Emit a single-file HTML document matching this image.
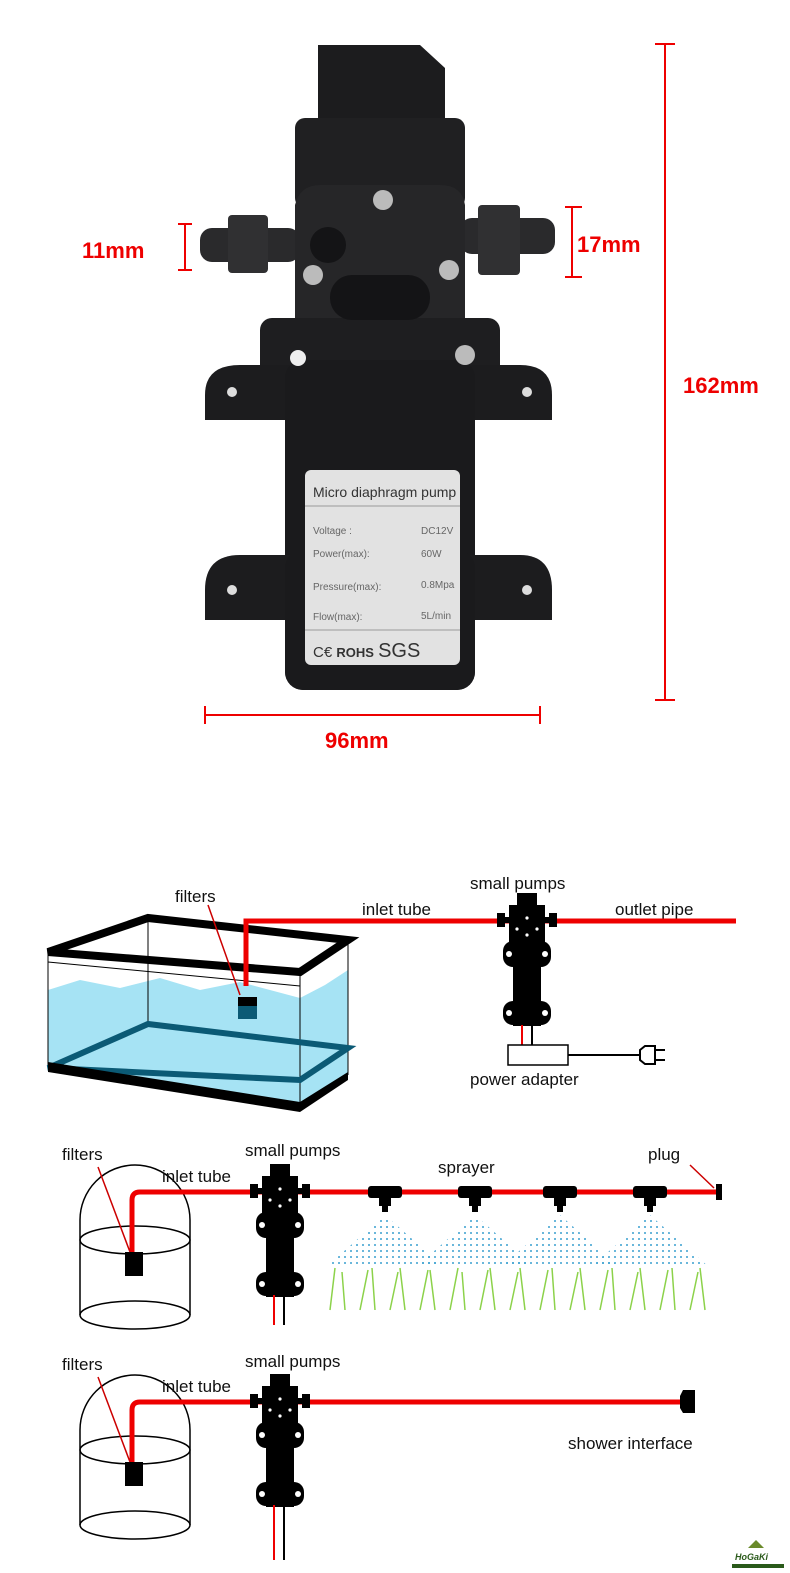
<!DOCTYPE html>
<html><head><meta charset="utf-8"><style>
body{margin:0;background:#fff;}
svg{display:block;font-family:"Liberation Sans",Arial,sans-serif;}
</style></head><body>
<svg width="790" height="1573" viewBox="0 0 790 1573" xmlns="http://www.w3.org/2000/svg">
<defs>
<g id="pump">
 <rect x="-10" y="-28" width="20" height="14" fill="#000"/>
 <rect x="-18" y="-16" width="36" height="40" fill="#000"/>
 <rect x="-30" y="-8" width="8" height="14" fill="#000"/>
 <rect x="22" y="-8" width="8" height="14" fill="#000"/>
 <rect x="-22" y="-4" width="44" height="6" fill="#000"/>
 <rect x="-24" y="20" width="48" height="26" rx="10" fill="#000"/>
 <rect x="-14" y="20" width="28" height="85" fill="#000"/>
 <rect x="-24" y="80" width="48" height="24" rx="10" fill="#000"/>
 <circle cx="-18" cy="33" r="3" fill="#fff"/><circle cx="18" cy="33" r="3" fill="#fff"/>
 <circle cx="-18" cy="92" r="3" fill="#fff"/><circle cx="18" cy="92" r="3" fill="#fff"/>
 <circle cx="0" cy="-3" r="1.6" fill="#fff"/><circle cx="-10" cy="8" r="1.6" fill="#fff"/><circle cx="10" cy="8" r="1.6" fill="#fff"/><circle cx="0" cy="14" r="1.6" fill="#fff"/>
</g>
<g id="jar" fill="none" stroke="#000" stroke-width="1.5">
 <path d="M0,140 L0,45 A55,55 0 0 1 110,45 L110,140"/>
 <ellipse cx="55" cy="65" rx="55" ry="14"/>
 <ellipse cx="55" cy="140" rx="55" ry="14"/>
</g>
<g id="spr">
 <rect x="-17" y="-6" width="34" height="12" rx="3" fill="#000"/>
 <rect x="-6" y="-6" width="12" height="20" fill="#000"/>
 <rect x="-3" y="12" width="6" height="8" fill="#000"/>
</g>
<pattern id="dots" width="6" height="6" patternUnits="userSpaceOnUse"><circle cx="3" cy="3" r="1" fill="#3aa0d0"/></pattern>
</defs>

<!-- Pump photo -->
<g>
 <path d="M318,45 L420,45 L445,68 L445,125 L318,125 Z" fill="#1c1c1e"/>
 <rect x="295" y="118" width="170" height="90" rx="10" fill="#202022"/>
 <rect x="200" y="228" width="100" height="34" rx="12" fill="#2a2a2c"/>
 <rect x="228" y="215" width="40" height="58" rx="4" fill="#303032"/>
 <rect x="460" y="218" width="95" height="36" rx="12" fill="#2a2a2c"/>
 <rect x="478" y="205" width="42" height="70" rx="4" fill="#303032"/>
 <path d="M295,205 Q300,185 320,185 L440,185 Q462,185 465,205 L465,370 L295,370 Z" fill="#262628"/>
 <rect x="260" y="318" width="240" height="60" rx="12" fill="#1e1e20"/>
 <path d="M205,395 Q205,365 240,365 L520,365 Q552,365 552,395 L552,420 L205,420 Z" fill="#1c1c1e"/>
 <rect x="285" y="360" width="190" height="330" rx="18" fill="#1a1a1c"/>
 <path d="M205,590 Q205,555 240,555 L520,555 Q552,555 552,590 L552,620 L205,620 Z" fill="#1c1c1e"/>
 <rect x="285" y="550" width="190" height="140" rx="18" fill="#1a1a1c"/>
 <rect x="330" y="275" width="100" height="45" rx="22" fill="#141416"/>
 <circle cx="328" cy="245" r="18" fill="#141416"/>
 <circle cx="383" cy="200" r="10" fill="#bbb"/><circle cx="313" cy="275" r="10" fill="#bbb"/>
 <circle cx="449" cy="270" r="10" fill="#bbb"/><circle cx="465" cy="355" r="10" fill="#bbb"/>
 <circle cx="298" cy="358" r="8" fill="#eee"/>
 <circle cx="232" cy="392" r="5" fill="#ddd"/><circle cx="527" cy="392" r="5" fill="#ddd"/>
 <circle cx="232" cy="590" r="5" fill="#ddd"/><circle cx="527" cy="590" r="5" fill="#ddd"/>
 <rect x="305" y="470" width="155" height="195" rx="6" fill="#e2e2e2"/>
 <text x="313" y="497" font-size="14" fill="#333">Micro diaphragm pump</text>
 <line x1="305" y1="506" x2="460" y2="506" stroke="#999"/>
 <g font-size="10" fill="#666">
 <text x="313" y="534">Voltage   :</text><text x="421" y="534">DC12V</text>
 <text x="313" y="557">Power(max):</text><text x="421" y="557">60W</text>
 <text x="313" y="590">Pressure(max):</text><text x="421" y="588">0.8Mpa</text>
 <text x="313" y="620">Flow(max):</text><text x="421" y="619">5L/min</text></g>
 <line x1="305" y1="630" x2="460" y2="630" stroke="#999"/>
 <text x="313" y="657" font-size="15" fill="#333">C€ <tspan font-size="13" font-weight="bold">ROHS</tspan> <tspan font-size="20">SGS</tspan></text>
</g>

<!-- dimensions -->
<g stroke="#e00" stroke-width="2">
 <line x1="665" y1="44" x2="665" y2="700"/><line x1="655" y1="44" x2="675" y2="44"/><line x1="655" y1="700" x2="675" y2="700"/>
 <line x1="205" y1="715" x2="540" y2="715"/><line x1="205" y1="706" x2="205" y2="724"/><line x1="540" y1="706" x2="540" y2="724"/>
 <line x1="185" y1="224" x2="185" y2="270"/><line x1="178" y1="224" x2="192" y2="224"/><line x1="178" y1="270" x2="192" y2="270"/>
 <line x1="572" y1="207" x2="572" y2="277"/><line x1="565" y1="207" x2="582" y2="207"/><line x1="565" y1="277" x2="582" y2="277"/>
</g>
<g fill="#e00" font-weight="bold" font-size="22">
 <text x="82" y="258">11mm</text><text x="577" y="252">17mm</text>
 <text x="683" y="393">162mm</text><text x="325" y="748">96mm</text>
</g>

<!-- Diagram 1: tank -->
<polygon points="48,990 80,980 120,988 160,978 200,990 240,982 300,998 300,1108 48,1068" fill="#a6e3f4"/>
<polygon points="300,998 325,985 348,970 348,1075 300,1108" fill="#a6e3f4"/>
<polygon points="48,952 148,918 348,940 300,972" fill="none" stroke="#000" stroke-width="8" stroke-linejoin="miter"/>
<line x1="48" y1="952" x2="48" y2="1068" stroke="#000"/>
<line x1="300" y1="972" x2="300" y2="1108" stroke="#000"/>
<line x1="348" y1="940" x2="348" y2="1075" stroke="#000"/>
<line x1="148" y1="918" x2="148" y2="1024" stroke="#000"/>
<line x1="48" y1="962" x2="300" y2="986" stroke="#000"/>
<polygon points="48,1068 148,1024 348,1048 300,1080" fill="none" stroke="#0b5a75" stroke-width="6"/>
<polygon points="48,1062 300,1102 348,1072 348,1080 300,1112 48,1072" fill="#000"/>
<path d="M246,986 L246,921 L736,921" fill="none" stroke="#e00" stroke-width="5"/>
<rect x="238" y="997" width="19" height="22" fill="#0b5a75"/><rect x="238" y="997" width="19" height="9" fill="#000"/>
<line x1="208" y1="905" x2="240" y2="995" stroke="#c00" stroke-width="1.5"/>
<use href="#pump" x="527" y="921"/>
<line x1="522" y1="1025" x2="522" y2="1047" stroke="#e00" stroke-width="2"/>
<line x1="532" y1="1025" x2="532" y2="1047" stroke="#000" stroke-width="2"/>
<rect x="508" y="1045" width="60" height="20" fill="#fff" stroke="#000" stroke-width="1.5"/>
<line x1="568" y1="1055" x2="640" y2="1055" stroke="#000" stroke-width="2"/>
<path d="M640,1050 L645,1046 L655,1046 L655,1064 L645,1064 L640,1060 Z M655,1050 L665,1050 M655,1060 L665,1060" fill="none" stroke="#000" stroke-width="2"/>
<g font-size="17" fill="#111">
<text x="175" y="902">filters</text><text x="362" y="915">inlet tube</text>
<text x="470" y="889">small pumps</text><text x="615" y="915">outlet pipe</text>
<text x="470" y="1085">power adapter</text></g>

<!-- Diagram 2 -->
<use href="#jar" x="80" y="1175"/>
<path d="M132,1252 L132,1200 Q132,1192 140,1192 L718,1192" fill="none" stroke="#e00" stroke-width="5"/>
<rect x="125" y="1252" width="18" height="24" fill="#000"/>
<line x1="98" y1="1167" x2="130" y2="1252" stroke="#c00" stroke-width="1.5"/>
<use href="#pump" x="280" y="1192"/>
<line x1="274" y1="1295" x2="274" y2="1325" stroke="#e00" stroke-width="2"/>
<line x1="284" y1="1295" x2="284" y2="1325" stroke="#000" stroke-width="2"/>
<g fill="url(#dots)">
<polygon points="385,1215 325,1268 445,1268"/><polygon points="475,1215 415,1268 535,1268"/>
<polygon points="560,1215 500,1268 620,1268"/><polygon points="650,1215 590,1268 710,1268"/></g>
<g stroke="#8cd24a" stroke-width="1.5">
<path d="M330,1310 L335,1268 M345,1310 L342,1272 M360,1310 L368,1270 M375,1310 L372,1268 M390,1310 L398,1272 M405,1310 L400,1268 M420,1310 L428,1270 M435,1310 L430,1270 M450,1310 L458,1268 M465,1310 L462,1272 M480,1310 L488,1270 M495,1310 L490,1268 M510,1310 L518,1272 M525,1310 L520,1268 M540,1310 L548,1270 M555,1310 L552,1268 M570,1310 L578,1272 M585,1310 L580,1268 M600,1310 L608,1270 M615,1310 L612,1268 M630,1310 L638,1272 M645,1310 L640,1268 M660,1310 L668,1270 M675,1310 L672,1268 M690,1310 L698,1272 M705,1310 L700,1268"/></g>
<use href="#spr" x="385" y="1192"/><use href="#spr" x="475" y="1192"/>
<use href="#spr" x="560" y="1192"/><use href="#spr" x="650" y="1192"/>
<rect x="716" y="1184" width="6" height="16" fill="#000"/>
<line x1="690" y1="1165" x2="714" y2="1188" stroke="#c00" stroke-width="1.5"/>
<g font-size="17" fill="#111">
<text x="62" y="1160">filters</text><text x="162" y="1182">inlet tube</text>
<text x="245" y="1156">small pumps</text><text x="438" y="1173">sprayer</text><text x="648" y="1160">plug</text></g>

<!-- Diagram 3 -->
<use href="#jar" x="80" y="1385"/>
<path d="M132,1462 L132,1410 Q132,1402 140,1402 L683,1402" fill="none" stroke="#e00" stroke-width="5"/>
<rect x="125" y="1462" width="18" height="24" fill="#000"/>
<line x1="98" y1="1377" x2="130" y2="1462" stroke="#c00" stroke-width="1.5"/>
<use href="#pump" x="280" y="1402"/>
<line x1="274" y1="1505" x2="274" y2="1560" stroke="#e00" stroke-width="2"/>
<line x1="284" y1="1505" x2="284" y2="1560" stroke="#000" stroke-width="2"/>
<path d="M680,1396 L683,1390 L695,1390 L695,1413 L683,1413 L680,1408 Z" fill="#000"/>
<g font-size="17" fill="#111">
<text x="62" y="1370">filters</text><text x="162" y="1392">inlet tube</text>
<text x="245" y="1367">small pumps</text><text x="568" y="1449">shower interface</text></g>

<!-- logo -->
<path d="M748,1548 L756,1540 L764,1548 Z" fill="#6a8a2a"/>
<text x="735" y="1560" font-size="9" font-style="italic" font-weight="bold" fill="#2a5a1a">HoGaKi</text>
<rect x="732" y="1564" width="52" height="4" fill="#2a5a1a"/>
</svg>
</body></html>
